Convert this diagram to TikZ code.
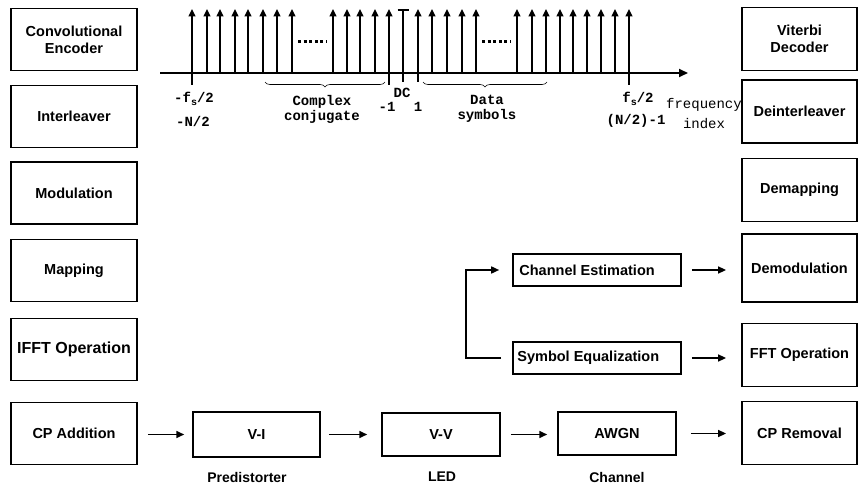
\documentclass[tikz,border=0pt]{standalone}
\usepackage{fontspec}
\setmainfont{Liberation Sans}
\setmonofont{Liberation Mono}
\usetikzlibrary{arrows.meta,decorations.pathreplacing,calc}
\begin{document}
\begin{tikzpicture}[x=1pt,y=-1pt,
  box/.style={draw, line width=1.8pt, align=center, font=\fontsize{14.5}{17}\selectfont\bfseries, inner sep=0pt},
  lbox/.style={box, minimum width=126pt, minimum height=62pt},
  rbox/.style={box, minimum width=115pt, minimum height=63pt},
  mbox/.style={box, line width=1.5pt, minimum width=118pt, minimum height=43pt},
  ebox/.style={draw, line width=1.6pt, minimum width=168pt, minimum height=32pt, inner sep=0pt},
  etext/.style={anchor=west, font=\fontsize{14.5}{17}\selectfont\bfseries, inner sep=0pt},
  blab/.style={font=\fontsize{14}{17}\selectfont\bfseries, inner sep=0pt},
  lab/.style={font=\fontsize{14}{15}\selectfont\ttfamily\bfseries, inner sep=0pt, align=center},
  labt/.style={font=\fontsize{14}{20}\selectfont\ttfamily, inner sep=0pt, align=center},
  conn/.style={line width=1.6pt, -{Triangle[length=8pt,width=7pt]}},
  spike/.style={line width=1.6pt, -{Triangle[length=7.5pt,width=7pt]}},
  tick/.style={line width=1.6pt}
]
\useasboundingbox (0,0) rectangle (860,484);
% left column
\node[lbox] (enc) at (74,39.5) {Convolutional\\Encoder};
\node[lbox] (intl) at (74,116.5) {Interleaver};
\node[lbox] (mod) at (74,193) {Modulation};
\node[lbox] (map) at (74,270.5) {Mapping};
\node[lbox, font=\fontsize{16}{17}\selectfont\bfseries] (ifft) at (74,349.5) {IFFT Operation};
\node[lbox] (cpa) at (74,433.5) {CP Addition};
% right column
\node[rbox] (vit) at (799.5,39) {Viterbi\\Decoder};
\node[rbox] (deint) at (799.5,111.5) {Deinterleaver};
\node[rbox] (demap) at (799.5,190) {Demapping};
\node[rbox, minimum height=68pt] (demod) at (799.5,268) {Demodulation};
\node[rbox] (fft) at (799.5,355) {FFT Operation};
\node[rbox] (cpr) at (799.5,433) {CP Removal};
% bottom row
\node[mbox, minimum width=127pt, minimum height=45pt] (vi) at (256.5,434.5) {V-I};
\node[mbox] (vv) at (441,434.5) {V-V};
\node[mbox] (awgn) at (617,433.5) {AWGN};
\node[blab] (pre) at (247,477) {Predistorter};
\node[blab] (led) at (442,477) {LED};
\node[blab] (chan) at (617,477) {Channel};
% estimation / equalization
\node[ebox] (chest) at (597,270) {};
\node[etext] (chestt) at ([xshift=7pt]chest.west) {Channel Estimation};
\node[ebox] (symeq) at (597,358) {};
\node[etext] (symeqt) at ([xshift=5pt]symeq.west) {Symbol Equalization};
% connectors
\draw[conn, shorten <=10pt, shorten >=8pt] (cpa.east |- vi.west) -- (vi.west);
\draw[conn, shorten <=8pt, shorten >=14pt] (vi.east) -- (vv.west);
\draw[conn, shorten <=10pt, shorten >=10pt] (vv.east) -- (awgn.west |- vv.east);
\draw[conn, shorten <=14pt, shorten >=15pt] (awgn.east) -- (cpr.west |- awgn.east);
\draw[conn, shorten <=10pt, shorten >=15pt] (chest.east) -- (demod.west |- chest.east);
\draw[conn, shorten <=10pt, shorten >=15pt] (symeq.east) -- (fft.west |- symeq.east);
\coordinate (bend) at ($(symeq.west)+(-46,0)$);
\draw[conn] ([xshift=-11pt]symeq.west) -- (bend) |- ([xshift=-13pt]chest.west);
% spectrum
\draw[line width=2pt, -{Triangle[length=9pt,width=8pt]}] (160,73) -- (688,73);
\foreach \x in {192,207,220,235,248,263,277,292,333,347,360,375,389,418,432,447,462,476,517,532,546,560,573,587,601,615,629}
  \draw[spike] (\x,73) -- (\x,9);
\draw[tick] (403,73) -- (403,10);
\draw[tick] (397.5,10) -- (408.5,10);
\foreach \x/\y in {192/85,389/85,403/82,418/82,629/85}
  \draw[tick] (\x,73) -- (\x,\y);
\draw[line width=3pt, dash pattern=on 3pt off 2.6pt] (298,42) -- (327,42);
\draw[line width=3pt, dash pattern=on 3pt off 2.6pt] (482,42) -- (511,42);
\draw[line width=0.6pt, decorate, decoration={brace, amplitude=5pt, mirror}] (265,82) -- (385,82);
\draw[line width=0.6pt, decorate, decoration={brace, amplitude=5pt, mirror}] (423,82) -- (547,82);
\node[lab] (lfsn) at (194,99) {-f\raisebox{-2.5pt}{\fontsize{10}{10}\selectfont s}/2};
\node[lab] (lnn) at (193,121) {-N/2};
\node[lab] (lcc) at (322,109) {Complex\\conjugate};
\node[lab] (lm1) at (387,107) {-1};
\node[lab] (ldc) at (402,93) {DC};
\node[lab] (lp1) at (418,107) {1};
\node[lab] (lds) at (487,109) {Data\\symbols};
\node[lab] (lfsp) at (638,99) {f\raisebox{-2.5pt}{\fontsize{10}{10}\selectfont s}/2};
\node[lab] (lnp) at (636,121) {(N/2)-1};
\node[labt] (lfi) at (704,114) {frequency\\index};
\end{tikzpicture}
\end{document}
